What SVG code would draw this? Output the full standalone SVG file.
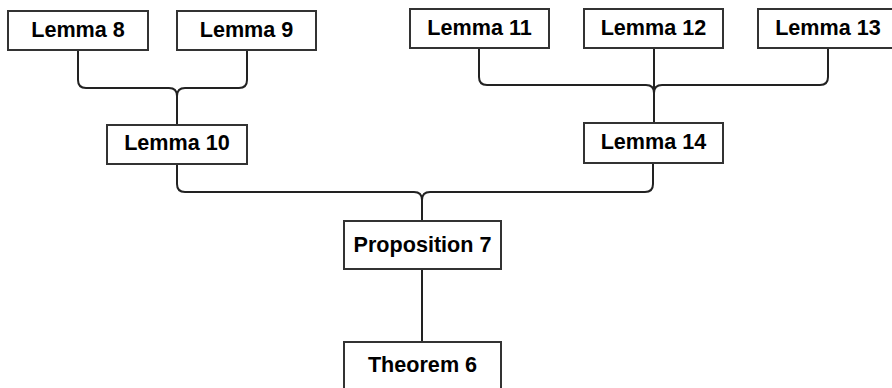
<svg xmlns="http://www.w3.org/2000/svg" width="892" height="388" viewBox="0 0 892 388">
<style>
.box{fill:#fff;stroke:#333;stroke-width:2}
.lbl{font-family:"Liberation Sans",Arial,sans-serif;font-weight:bold;font-size:21.6px;fill:#000;text-anchor:middle}
.edge{fill:none;stroke:#222;stroke-width:2}
</style>
<rect width="892" height="388" fill="#fff"/>
<g id="connectors">
<path class="edge" d="M78,50 V80 Q78,88 86,88 H169 Q177,88 177,96 V125"/>
<path class="edge" d="M247,50 V80 Q247,88 239,88 H185 Q177,88 177,96 V125"/>
<path class="edge" d="M479,48 V77 Q479,85 487,85 H646 Q654,85 654,93 V123"/>
<path class="edge" d="M828,48 V77 Q828,85 820,85 H662 Q654,85 654,93 V123"/>
<path class="edge" d="M654,48 V123"/>
<path class="edge" d="M177,164 V184 Q177,192 185,192 H414 Q422,192 422,200 V221"/>
<path class="edge" d="M653,163 V184 Q653,192 645,192 H430 Q422,192 422,200 V221"/>
<path class="edge" d="M422,269 V342"/>
</g>
<g id="lemma8"><rect class="box" x="8" y="11" width="140" height="39"/><text class="lbl" x="78" y="37">Lemma 8</text></g>
<g id="lemma9"><rect class="box" x="177" y="11" width="139" height="39"/><text class="lbl" x="246.5" y="37">Lemma 9</text></g>
<g id="lemma10"><rect class="box" x="107" y="125" width="140" height="39"/><text class="lbl" x="177" y="150">Lemma 10</text></g>
<g id="lemma11"><rect class="box" x="410" y="9" width="139" height="39"/><text class="lbl" x="479.5" y="35">Lemma 11</text></g>
<g id="lemma12"><rect class="box" x="584" y="9" width="139" height="39"/><text class="lbl" x="653.5" y="35">Lemma 12</text></g>
<g id="lemma13"><rect class="box" x="758" y="9" width="140" height="39"/><text class="lbl" x="828" y="35">Lemma 13</text></g>
<g id="lemma14"><rect class="box" x="584" y="123" width="139" height="40"/><text class="lbl" x="653.5" y="149">Lemma 14</text></g>
<g id="proposition7"><rect class="box" x="344" y="221" width="157" height="48"/><text class="lbl" x="422.5" y="252">Proposition 7</text></g>
<g id="theorem6"><rect class="box" x="344" y="342" width="157" height="48"/><text class="lbl" x="422.5" y="372">Theorem 6</text></g>
</svg>
